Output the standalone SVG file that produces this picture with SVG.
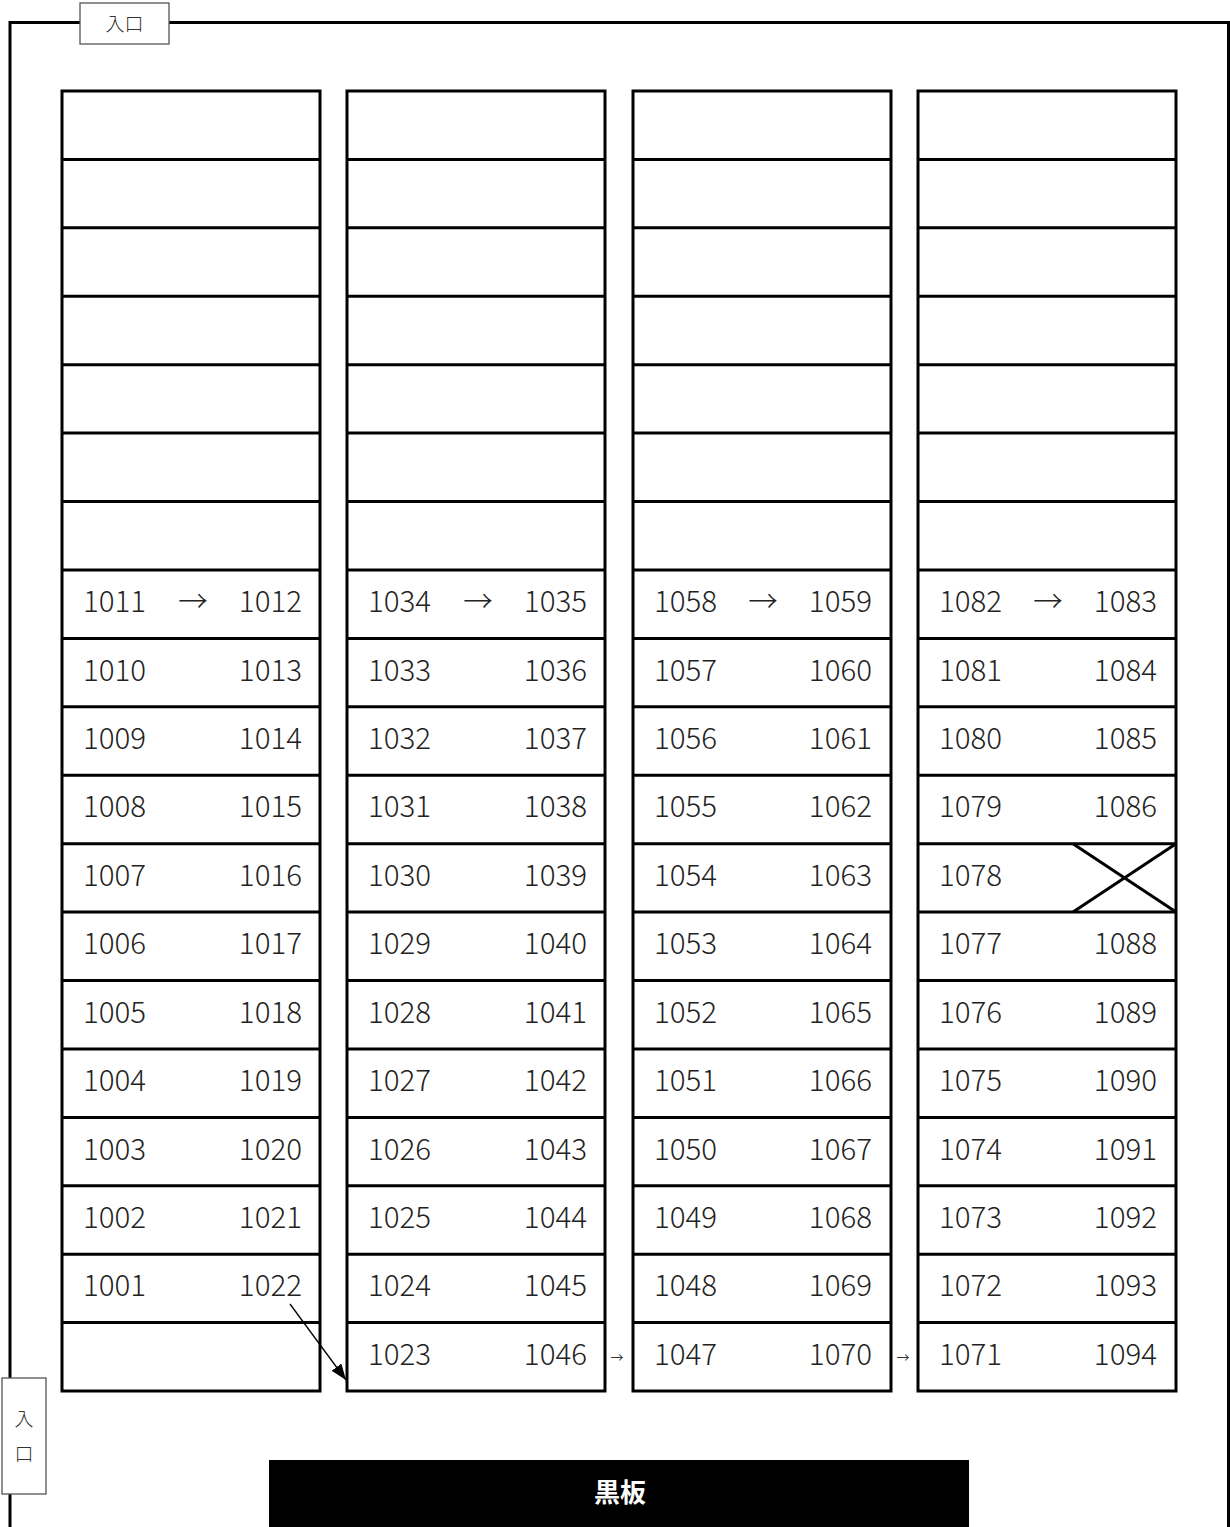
<svg xmlns="http://www.w3.org/2000/svg" width="1230" height="1527" viewBox="0 0 1230 1527">
<style>
.wall{fill:none;stroke:#000;stroke-width:3}
.col{fill:#fff;stroke:#000;stroke-width:3}
.rl{stroke:#000;stroke-width:3}
.door{fill:#fff;stroke:#555;stroke-width:1.3}
.dt{font-family:"Noto Sans CJK JP","Noto Sans",sans-serif;font-size:19px;font-weight:300;fill:#333;text-anchor:middle}
.n{font-family:"Noto Sans CJK JP","Noto Sans",sans-serif;font-size:29.5px;font-weight:300;fill:#222}
.r{text-anchor:end}
.a{text-anchor:middle}
.sa{font-family:"Noto Sans CJK JP","Noto Sans",sans-serif;font-size:13px;fill:#333;text-anchor:middle}
.bb{font-family:"Noto Sans CJK JP","Noto Sans",sans-serif;font-size:26px;font-weight:bold;fill:#fff;text-anchor:middle}
</style>
<defs>
<marker id="ah" markerWidth="16" markerHeight="12" refX="16" refY="6" orient="auto" markerUnits="userSpaceOnUse" viewBox="0 0 16 12">
<path d="M0,0 L16,6 L0,12 z" fill="#000"/>
</marker>
<g id="grid">
<rect class="col" x="0" y="91" width="258" height="1300"/>
<path class="rl" d="M0,159.4H258M0,227.8H258M0,296.3H258M0,364.7H258M0,433.1H258M0,501.5H258M0,570H258M0,638.4H258M0,706.8H258M0,775.2H258M0,843.7H258M0,912.1H258M0,980.5H258M0,1048.9H258M0,1117.4H258M0,1185.8H258M0,1254.2H258M0,1322.6H258"/>
</g>
</defs>
<rect width="1230" height="1527" fill="#fff"/>
<g id="walls">
<path class="wall" d="M10,1527V22.5H1228.5V1527"/>
</g>
<g id="door-top">
<rect class="door" x="80" y="3" width="89" height="41"/>
<text class="dt" x="124.5" y="30.5">入口</text>
</g>
<g id="door-left">
<rect class="door" x="2" y="1378" width="44" height="116"/>
<text class="dt" x="24" y="1426">入</text>
<text class="dt" x="24" y="1461">口</text>
</g>
<g id="column-1">
<use href="#grid" x="62"/>
<text class="n" x="83" y="612">1011</text><text class="n a" x="193" y="612">→</text><text class="n r" x="302" y="612">1012</text>
<text class="n" x="83" y="681">1010</text><text class="n r" x="302" y="681">1013</text>
<text class="n" x="83" y="749">1009</text><text class="n r" x="302" y="749">1014</text>
<text class="n" x="83" y="817">1008</text><text class="n r" x="302" y="817">1015</text>
<text class="n" x="83" y="886">1007</text><text class="n r" x="302" y="886">1016</text>
<text class="n" x="83" y="954">1006</text><text class="n r" x="302" y="954">1017</text>
<text class="n" x="83" y="1023">1005</text><text class="n r" x="302" y="1023">1018</text>
<text class="n" x="83" y="1091">1004</text><text class="n r" x="302" y="1091">1019</text>
<text class="n" x="83" y="1160">1003</text><text class="n r" x="302" y="1160">1020</text>
<text class="n" x="83" y="1228">1002</text><text class="n r" x="302" y="1228">1021</text>
<text class="n" x="83" y="1296">1001</text><text class="n r" x="302" y="1296">1022</text>
</g>
<g id="column-2">
<use href="#grid" x="347"/>
<text class="n" x="368" y="612">1034</text><text class="n a" x="478" y="612">→</text><text class="n r" x="587" y="612">1035</text>
<text class="n" x="368" y="681">1033</text><text class="n r" x="587" y="681">1036</text>
<text class="n" x="368" y="749">1032</text><text class="n r" x="587" y="749">1037</text>
<text class="n" x="368" y="817">1031</text><text class="n r" x="587" y="817">1038</text>
<text class="n" x="368" y="886">1030</text><text class="n r" x="587" y="886">1039</text>
<text class="n" x="368" y="954">1029</text><text class="n r" x="587" y="954">1040</text>
<text class="n" x="368" y="1023">1028</text><text class="n r" x="587" y="1023">1041</text>
<text class="n" x="368" y="1091">1027</text><text class="n r" x="587" y="1091">1042</text>
<text class="n" x="368" y="1160">1026</text><text class="n r" x="587" y="1160">1043</text>
<text class="n" x="368" y="1228">1025</text><text class="n r" x="587" y="1228">1044</text>
<text class="n" x="368" y="1296">1024</text><text class="n r" x="587" y="1296">1045</text>
<text class="n" x="368" y="1365">1023</text><text class="n r" x="587" y="1365">1046</text>
</g>
<g id="column-3">
<use href="#grid" x="633"/>
<text class="n" x="654" y="612">1058</text><text class="n a" x="763" y="612">→</text><text class="n r" x="872" y="612">1059</text>
<text class="n" x="654" y="681">1057</text><text class="n r" x="872" y="681">1060</text>
<text class="n" x="654" y="749">1056</text><text class="n r" x="872" y="749">1061</text>
<text class="n" x="654" y="817">1055</text><text class="n r" x="872" y="817">1062</text>
<text class="n" x="654" y="886">1054</text><text class="n r" x="872" y="886">1063</text>
<text class="n" x="654" y="954">1053</text><text class="n r" x="872" y="954">1064</text>
<text class="n" x="654" y="1023">1052</text><text class="n r" x="872" y="1023">1065</text>
<text class="n" x="654" y="1091">1051</text><text class="n r" x="872" y="1091">1066</text>
<text class="n" x="654" y="1160">1050</text><text class="n r" x="872" y="1160">1067</text>
<text class="n" x="654" y="1228">1049</text><text class="n r" x="872" y="1228">1068</text>
<text class="n" x="654" y="1296">1048</text><text class="n r" x="872" y="1296">1069</text>
<text class="n" x="654" y="1365">1047</text><text class="n r" x="872" y="1365">1070</text>
</g>
<g id="column-4">
<use href="#grid" x="918"/>
<text class="n" x="939" y="612">1082</text><text class="n a" x="1048" y="612">→</text><text class="n r" x="1157" y="612">1083</text>
<text class="n" x="939" y="681">1081</text><text class="n r" x="1157" y="681">1084</text>
<text class="n" x="939" y="749">1080</text><text class="n r" x="1157" y="749">1085</text>
<text class="n" x="939" y="817">1079</text><text class="n r" x="1157" y="817">1086</text>
<text class="n" x="939" y="886">1078</text>
<path class="rl" d="M1073,843.7L1176,912.1M1073,912.1L1176,843.7"/>
<text class="n" x="939" y="954">1077</text><text class="n r" x="1157" y="954">1088</text>
<text class="n" x="939" y="1023">1076</text><text class="n r" x="1157" y="1023">1089</text>
<text class="n" x="939" y="1091">1075</text><text class="n r" x="1157" y="1091">1090</text>
<text class="n" x="939" y="1160">1074</text><text class="n r" x="1157" y="1160">1091</text>
<text class="n" x="939" y="1228">1073</text><text class="n r" x="1157" y="1228">1092</text>
<text class="n" x="939" y="1296">1072</text><text class="n r" x="1157" y="1296">1093</text>
<text class="n" x="939" y="1365">1071</text><text class="n r" x="1157" y="1365">1094</text>
</g>
<g id="connectors">
<line x1="290" y1="1304" x2="346" y2="1380" stroke="#000" stroke-width="1.3" marker-end="url(#ah)"/>
<text class="sa" x="617" y="1362">→</text>
<text class="sa" x="903" y="1362">→</text>
</g>
<g id="blackboard">
<rect x="269" y="1460" width="700" height="67" fill="#000"/>
<text class="bb" x="620" y="1502">黒板</text>
</g>
</svg>
